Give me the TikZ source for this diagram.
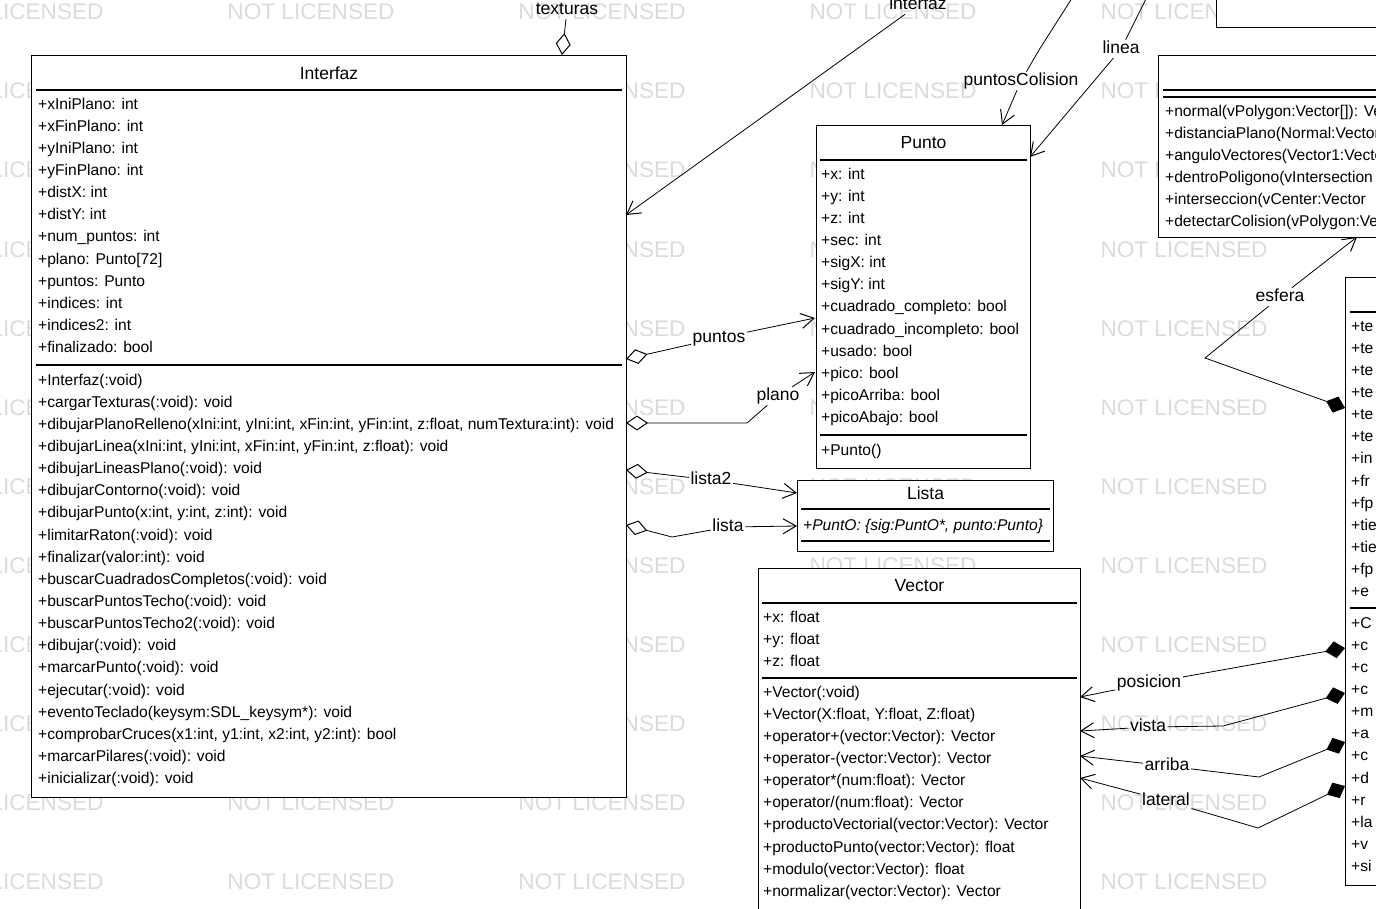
\documentclass[tikz,border=0pt]{standalone}
\usepackage{fontspec}
\setmainfont{Liberation Sans}
\usetikzlibrary{arrows.meta,calc}

\newcommand\membfont{\fontsize{15.6}{18}\selectfont}
\newcommand\headfont{\fontsize{17.5}{20}\selectfont}

% one text line per member, 22.15 apart
\newcommand\memberlist[4]{%
  \foreach \m [count=\k from 0] in {#4}
    \node[member] (#1-\k) at (#2,{#3+\k*22.15}) {\m};}

\begin{document}
\begin{tikzpicture}[x=1pt, y=-1pt,
  cls/.style={draw, fill=white, line width=1pt, inner sep=0pt},
  sep/.style={line width=1.5pt},
  member/.style={font=\membfont, anchor=west, inner sep=0pt,
                 text height=11pt, text depth=3pt},
  head/.style={font=\headfont, inner sep=0pt},
  lbl/.style={font=\headfont, inner sep=1.5pt, text height=12pt, text depth=3pt},
  wmark/.style={font=\fontsize{22.6}{24}\selectfont, text=black!14, inner sep=0pt},
  assoc/.style={line width=0.8pt, -{Straight Barb[length=13pt,width=15pt,line width=1pt]}},
  aggr/.style={line width=0.8pt, {Diamond[open,length=22pt,width=15pt,line width=1pt]}-},
  comp/.style={line width=0.8pt, {Diamond[length=20pt,width=17pt]}-}]
  \useasboundingbox (0,0) rectangle (1376,908);

  % watermark
  \foreach \wx in {20,311,602,893,1184}
    \foreach \wy in {0,...,11}
      \node[wmark] (wm-\wx-\wy) at (\wx,{12+\wy*79.1}) {NOT LICENSED};

  % class Interfaz
  \node[cls, anchor=north west, minimum width=595pt, minimum height=742pt] (Interfaz) at (31,55) {};
  \node[head] (Interfaz-h) at ($(Interfaz.north)+(0,18)$) {Interfaz};
  \draw[sep] ($(Interfaz.north west)+(5,35)$) -- ($(Interfaz.north east)+(-5,35)$);
  \draw[sep] ($(Interfaz.north west)+(5,310)$) -- ($(Interfaz.north east)+(-5,310)$);
  \memberlist{ia}{38}{105}{+xIniPlano: int, +xFinPlano: int, +yIniPlano: int, +yFinPlano: int,
    +distX: int, +distY: int, +num\_puntos: int, +plano: Punto[72], +puntos: Punto,
    +indices: int, +indices2: int, +finalizado: bool}
  \memberlist{im}{38}{381}{+Interfaz(:void), +cargarTexturas(:void): void,
    {+dibujarPlanoRelleno(xIni:int, yIni:int, xFin:int, yFin:int, z:float, numTextura:int): void},
    {+dibujarLinea(xIni:int, yIni:int, xFin:int, yFin:int, z:float): void},
    +dibujarLineasPlano(:void): void, +dibujarContorno(:void): void,
    {+dibujarPunto(x:int, y:int, z:int): void}, +limitarRaton(:void): void,
    +finalizar(valor:int): void, +buscarCuadradosCompletos(:void): void,
    +buscarPuntosTecho(:void): void, +buscarPuntosTecho2(:void): void,
    +dibujar(:void): void, +marcarPunto(:void): void, +ejecutar(:void): void,
    +eventoTeclado(keysym:SDL\_keysym*): void,
    {+comprobarCruces(x1:int, y1:int, x2:int, y2:int): bool},
    +marcarPilares(:void): void, +inicializar(:void): void}

  % class Punto
  \node[cls, anchor=north west, minimum width=214pt, minimum height=343pt] (Punto) at (816,125) {};
  \node[head] (Punto-h) at ($(Punto.north)+(0,18)$) {Punto};
  \draw[sep] ($(Punto.north west)+(4,35)$) -- ($(Punto.north east)+(-4,35)$);
  \draw[sep] ($(Punto.north west)+(4,310)$) -- ($(Punto.north east)+(-4,310)$);
  \memberlist{pa}{821}{175}{+x: int, +y: int, +z: int, +sec: int, +sigX: int, +sigY: int,
    +cuadrado\_completo: bool, +cuadrado\_incompleto: bool, +usado: bool,
    +pico: bool, +picoArriba: bool, +picoAbajo: bool}
  \memberlist{pm}{821}{451}{+Punto()}

  % class Lista
  \node[cls, anchor=north west, minimum width=256pt, minimum height=71pt] (Lista) at (797,480) {};
  \node[head] (Lista-h) at ($(Lista.north)+(0,13)$) {Lista};
  \draw[sep] ($(Lista.north west)+(4,29)$) -- ($(Lista.north east)+(-4,29)$);
  \draw[sep] ($(Lista.north west)+(4,61)$) -- ($(Lista.north east)+(-4,61)$);
  \memberlist{la}{803}{526}{{\itshape +PuntO: \{sig:PuntO*, punto:Punto\}}}

  % class Vector
  \node[cls, anchor=north west, minimum width=322pt, minimum height=400pt] (Vector) at (758,568) {};
  \node[head] (Vector-h) at ($(Vector.north)+(0,18)$) {Vector};
  \draw[sep] ($(Vector.north west)+(4,35)$) -- ($(Vector.north east)+(-4,35)$);
  \draw[sep] ($(Vector.north west)+(4,110)$) -- ($(Vector.north east)+(-4,110)$);
  \memberlist{va}{763}{618}{+x: float, +y: float, +z: float}
  \memberlist{vm}{763}{693}{+Vector(:void), {+Vector(X:float, Y:float, Z:float)},
    +operator+(vector:Vector): Vector, +operator-(vector:Vector): Vector,
    +operator*(num:float): Vector, +operator/(num:float): Vector,
    +productoVectorial(vector:Vector): Vector, +productoPunto(vector:Vector): float,
    +modulo(vector:Vector): float, +normalizar(vector:Vector): Vector}

  % class without name (collisions), cut by the right border
  \node[cls, anchor=north west, minimum width=300pt, minimum height=182pt] (Colision) at (1158,55) {};
  \draw[sep] ($(Colision.north west)+(5,35)$) -- ($(Colision.north east)+(-5,35)$);
  \draw[sep] ($(Colision.north west)+(5,42)$) -- ($(Colision.north east)+(-5,42)$);
  \memberlist{cm}{1165}{112}{+normal(vPolygon:Vector[]): Vector, +distanciaPlano(Normal:Vector,
    +anguloVectores(Vector1:Vector, +dentroPoligono(vIntersection, +interseccion(vCenter:Vector,
    +detectarColision(vPolygon:Vector}

  % class cut by the top border
  \node[cls, anchor=north west, minimum width=250pt, minimum height=57pt] (Arriba) at (1216,-30) {};

  % class cut by the right border
  \node[cls, anchor=north west, minimum width=100pt, minimum height=608pt] (Camara) at (1345,277) {};
  \draw[sep] ($(Camara.north west)+(5,35)$) -- ($(Camara.north east)+(-5,35)$);
  \draw[sep] ($(Camara.north west)+(5,331)$) -- ($(Camara.north east)+(-5,331)$);
  \memberlist{ca}{1351}{327}{+te, +te, +te, +te, +te, +te, +in, +fr, +fp, +tie, +tie, +fp, +e}
  \memberlist{cn}{1351}{624}{+C, +c, +c, +c, +m, +a, +c, +d, +r, +la, +v, +si}

  % ends of the connectors
  \coordinate (Interfaz-tex) at (562,55);
  \coordinate (Interfaz-ifz) at (626,215);
  \coordinate (Interfaz-pts) at (626,359);
  \coordinate (Interfaz-pla) at (626,423);
  \coordinate (Interfaz-ls2) at (626,470);
  \coordinate (Interfaz-lst) at (626,525);
  \coordinate (Punto-pts) at (815,318);
  \coordinate (Punto-pla) at (815,372);
  \coordinate (Punto-col) at (1002,125);
  \coordinate (Punto-lin) at (1030,157);
  \coordinate (Lista-ls2) at (797,493);
  \coordinate (Lista-lst) at (797,526);
  \coordinate (Vector-pos) at (1080,697);
  \coordinate (Vector-vis) at (1080,731);
  \coordinate (Vector-arr) at (1080,756);
  \coordinate (Vector-lat) at (1080,778);
  \coordinate (Colision-esf) at (1357,237);
  \coordinate (Camara-esf) at (1345,408);
  \coordinate (Camara-pos) at (1345,648);
  \coordinate (Camara-vis) at (1345,693);
  \coordinate (Camara-arr) at (1345,742);
  \coordinate (Camara-lat) at (1345,786);
  \coordinate (col-top) at (1074,-5);
  \coordinate (col-b) at (1039,50);
  \coordinate (lin-top) at (1148,-5);
  \coordinate (pla-b) at (747,423);
  \coordinate (lst-b) at (672,537);
  \coordinate (esf-b) at (1205,358);
  \coordinate (vis-b) at (1223,726);
  \coordinate (arr-b) at (1259,777);
  \coordinate (lat-b) at (1258,828);

  % labels
  \node[lbl] (texturas) at (567,10) {texturas};
  \node[lbl] (interfaz) at (918,5) {interfaz};
  \node[lbl] (puntosColision) at (1021,81) {puntosColision};
  \node[lbl] (linea) at (1121,49) {linea};
  \node[lbl] (puntos) at (719,338) {puntos};
  \node[lbl] (plano) at (778,396) {plano};
  \node[lbl] (lista2) at (711,480) {lista2};
  \node[lbl] (lista) at (728,527) {lista};
  \node[lbl] (esfera) at (1280,297) {esfera};
  \node[lbl] (posicion) at (1149,683) {posicion};
  \node[lbl] (vista) at (1148,727) {vista};
  \node[lbl] (arriba) at (1167,766) {arriba};
  \node[lbl] (lateral) at (1166,801) {lateral};

  % connectors
  \draw[aggr] (Interfaz-tex) -- (texturas);
  \draw[assoc] (interfaz) -- (Interfaz-ifz);
  \draw[assoc] (col-top) -- (col-b) -- (puntosColision) -- (Punto-col);
  \draw[assoc] (lin-top) -- (linea) -- (Punto-lin);
  \draw[aggr] (Interfaz-pts) -- (puntos);
  \draw[assoc] (puntos) -- (Punto-pts);
  \draw[aggr] (Interfaz-pla) -- (pla-b) -- (plano);
  \draw[assoc] (plano) -- (Punto-pla);
  \draw[aggr] (Interfaz-ls2) -- (lista2);
  \draw[assoc] (lista2) -- (Lista-ls2);
  \draw[aggr] (Interfaz-lst) -- (lst-b) -- (lista);
  \draw[assoc] (lista) -- (Lista-lst);
  \draw[comp] (Camara-esf) -- (esf-b) -- (esfera);
  \draw[assoc] (esfera) -- (Colision-esf);
  \draw[comp] (Camara-pos) -- (posicion);
  \draw[assoc] (posicion) -- (Vector-pos);
  \draw[comp] (Camara-vis) -- (vis-b) -- (vista);
  \draw[assoc] (vista) -- (Vector-vis);
  \draw[comp] (Camara-arr) -- (arr-b) -- (arriba);
  \draw[assoc] (arriba) -- (Vector-arr);
  \draw[comp] (Camara-lat) -- (lat-b) -- (lateral);
  \draw[assoc] (lateral) -- (Vector-lat);
\end{tikzpicture}
\end{document}
